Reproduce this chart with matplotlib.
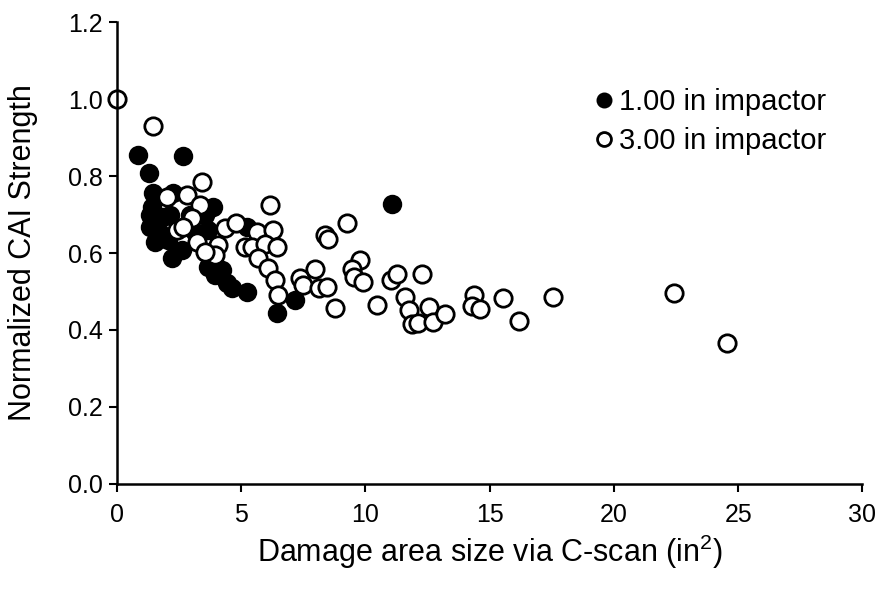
import numpy as np
import matplotlib
matplotlib.use('Agg')
import matplotlib.pyplot as plt

plt.rcParams['font.family'] = ['Liberation Sans', 'DejaVu Sans']
plt.rcParams['mathtext.fontset'] = 'custom'
plt.rcParams['mathtext.rm'] = 'Liberation Sans'
plt.rcParams['mathtext.default'] = 'rm'

# 1.00 in impactor: damage area (in^2) and normalized CAI strength
small_x = [0.85, 1.29, 2.66, 1.45, 2.26, 1.41, 1.33, 1.85, 1.33, 1.73,
           1.53, 2.20, 2.60, 2.05, 2.13, 3.87, 3.66, 3.54, 3.87, 3.66,
           3.95, 4.23, 4.43, 4.63, 5.24, 5.24, 6.44, 7.17, 11.07, 2.94,
           3.14]
small_y = [0.855, 0.808, 0.852, 0.756, 0.756, 0.720, 0.700, 0.694, 0.668, 0.652,
           0.628, 0.587, 0.608, 0.634, 0.700, 0.720, 0.660, 0.700, 0.587, 0.564,
           0.543, 0.556, 0.522, 0.509, 0.499, 0.668, 0.444, 0.478, 0.727, 0.700,
           0.655]

# 3.00 in impactor
large_x = [0.00, 1.44, 3.42, 2.01, 2.82, 3.34, 3.02, 2.42, 4.35, 4.79,
           6.16, 5.64, 6.28, 3.22, 4.07, 3.95, 3.54, 2.66, 5.15, 5.44,
           5.96, 6.44, 5.68, 6.08, 6.36, 6.48, 7.37, 7.97, 7.49, 8.14,
           8.46, 8.38, 8.50, 9.26, 9.79, 9.46, 9.54, 9.91, 8.78, 10.47,
           11.03, 11.28, 12.28, 11.60, 11.76, 11.88, 12.12, 12.57, 12.73, 13.20,
           14.38, 14.30, 14.62, 15.55, 16.19, 17.56, 22.43, 24.57]
large_y = [1.000, 0.930, 0.784, 0.745, 0.750, 0.725, 0.690, 0.660, 0.665, 0.678,
           0.725, 0.655, 0.660, 0.629, 0.620, 0.595, 0.603, 0.668, 0.616, 0.616,
           0.623, 0.616, 0.587, 0.561, 0.530, 0.490, 0.535, 0.558, 0.517, 0.509,
           0.512, 0.647, 0.636, 0.678, 0.582, 0.558, 0.538, 0.525, 0.457, 0.465,
           0.530, 0.545, 0.545, 0.486, 0.452, 0.416, 0.418, 0.460, 0.421, 0.442,
           0.491, 0.462, 0.455, 0.483, 0.423, 0.486, 0.496, 0.366]

x_ticks = [0, 5, 10, 15, 20, 25, 30]
y_ticks = [0.0, 0.2, 0.4, 0.6, 0.8, 1.0, 1.2]

fig = plt.figure(figsize=(8.8, 6.01), dpi=100)
ax = fig.add_axes([0.133, 0.195, 0.847, 0.768])

ax.plot(small_x, small_y, 'o', ms=12.5, mfc='black', mec='black', mew=1.5,
        clip_on=False, label='1.00 in impactor')
ax.plot(large_x, large_y, 'o', ms=12.5, mfc='white', mec='black', mew=2.0,
        clip_on=False, label='3.00 in impactor')

ax.set_xlim(0, 30)
ax.set_ylim(0, 1.2)
ax.set_xticks(x_ticks)
ax.set_yticks(y_ticks)
ax.set_xticklabels([str(t) for t in x_ticks])
ax.set_yticklabels(['%.1f' % t for t in y_ticks])

for side in ['top', 'right']:
    ax.spines[side].set_visible(False)
for side in ['left', 'bottom']:
    ax.spines[side].set_linewidth(1.8)
ax.tick_params(direction='out', length=6, width=1.5, labelsize=18)
ax.tick_params(axis='x', pad=8)
ax.tick_params(axis='y', pad=4)

ax.set_xlabel('Damage area size via C-scan (in$^2$)', fontsize=22, labelpad=4)
ax.set_ylabel('Normalized CAI Strength', fontsize=22, labelpad=22)

leg = ax.legend(loc='upper left', bbox_to_anchor=(0.62, 0.882), frameon=False,
                fontsize=21, handletextpad=0.05, handlelength=0.9,
                markerscale=0.8, labelspacing=0.37, borderaxespad=0)

fig.savefig('out.png', dpi=100)
